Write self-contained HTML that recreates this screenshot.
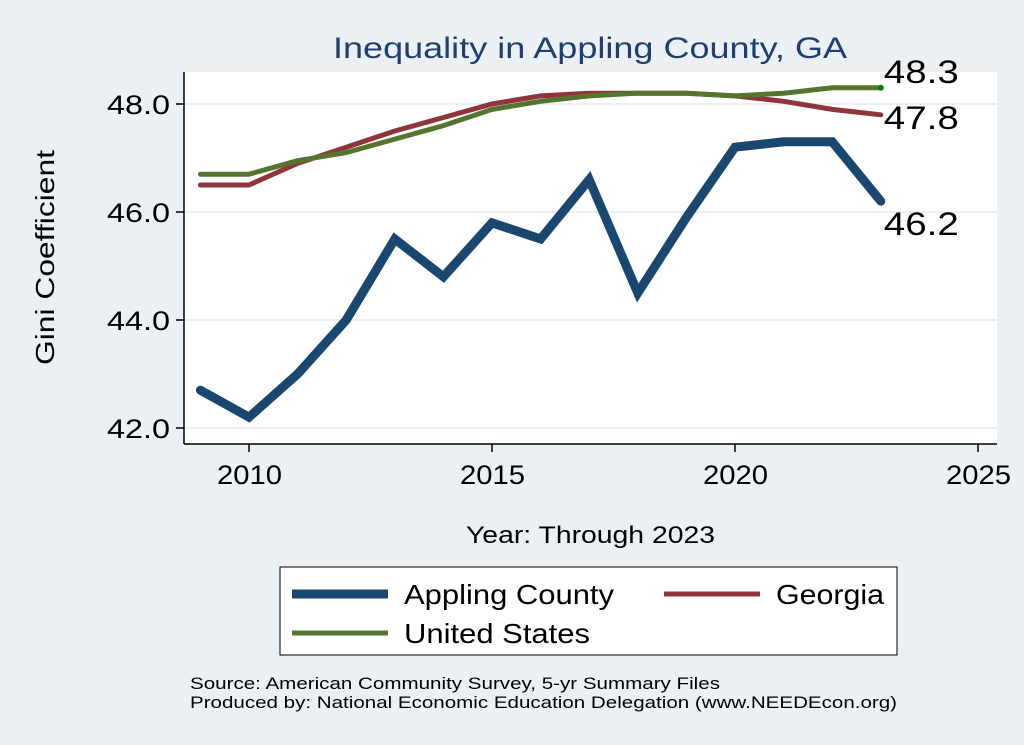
<!DOCTYPE html>
<html><head><meta charset="utf-8"><style>
body{margin:0;background:#eaf0f3;}
svg{display:block;font-family:"Liberation Sans",Arial,sans-serif;}
</style></head><body>
<svg id="c" width="1024" height="745" viewBox="0 0 1024 745" xmlns="http://www.w3.org/2000/svg">
<rect width="1024" height="745" fill="#eaf0f3"/>
<rect x="184" y="72" width="813" height="372" fill="#ffffff"/>
<text x="333" y="58" textLength="514" lengthAdjust="spacingAndGlyphs" font-size="30" fill="#1f3f70">Inequality in Appling County, GA</text>
<g id="grid"></g>
<g id="axes"></g>
<g id="series"></g>
<text transform="translate(54,365) rotate(-90)" textLength="215" lengthAdjust="spacingAndGlyphs" font-size="26" fill="#000">Gini Coefficient</text>
<text x="466" y="543" textLength="249" lengthAdjust="spacingAndGlyphs" font-size="24" fill="#000">Year: Through 2023</text>
<g>
<rect x="280" y="567" width="617" height="88" fill="#fff" stroke="#000" stroke-width="1"/>
<g><line x1="292" y1="594" x2="388" y2="594" stroke="#1a476f" stroke-width="9"/><text x="404" y="604" textLength="210" lengthAdjust="spacingAndGlyphs" font-size="28">Appling County</text></g>
<g><line x1="664" y1="594" x2="760" y2="594" stroke="#90353b" stroke-width="5"/><text x="776" y="604" textLength="108" lengthAdjust="spacingAndGlyphs" font-size="28">Georgia</text></g>
<g><line x1="292" y1="633" x2="388" y2="633" stroke="#55752f" stroke-width="5"/><text x="404" y="643" textLength="186" lengthAdjust="spacingAndGlyphs" font-size="28">United States</text></g>
</g>
<text x="190" y="689" textLength="530" lengthAdjust="spacingAndGlyphs" font-size="16.5">Source: American Community Survey, 5-yr Summary Files</text>
<text x="190" y="708" textLength="707" lengthAdjust="spacingAndGlyphs" font-size="16.5">Produced by: National Economic Education Delegation (www.NEEDEcon.org)</text>
</svg>
<script>
const years=[2009,2010,2011,2012,2013,2014,2015,2016,2017,2018,2019,2020,2021,2022,2023];
const appling=[42.7,42.2,43.0,44.0,45.5,44.8,45.8,45.5,46.6,44.5,45.9,47.2,47.3,47.3,46.2];
const georgia=[46.5,46.5,46.9,47.2,47.5,47.75,48.0,48.15,48.2,48.2,48.2,48.15,48.05,47.9,47.8];
const us=[46.7,46.7,46.95,47.1,47.35,47.6,47.9,48.05,48.15,48.2,48.2,48.15,48.2,48.3,48.3];
const yTicks=[42,44,46,48];
const xTicks=[2010,2015,2020,2025];
const NS="http://www.w3.org/2000/svg";
const X=v=>249+(v-2010)*48.6;
const Y=v=>428-(v-42)*54;
function mk(tag,attrs,parent,txt){const e=document.createElementNS(NS,tag);for(const k in attrs)e.setAttribute(k,attrs[k]);if(txt!==undefined)e.textContent=txt;document.getElementById(parent).appendChild(e);return e;}
for(const t of yTicks){
 const g=mk('line',{x1:184,x2:997,y1:Y(t),y2:Y(t),stroke:'#eaf0f3','stroke-width':2},'grid');
 
 
 mk('line',{x1:176,x2:184,y1:Y(t),y2:Y(t),stroke:'#000','stroke-width':1.5},'axes');
 const l=mk('text',{x:170,y:Y(t)+10,'text-anchor':'end','font-size':27,textLength:63,lengthAdjust:'spacingAndGlyphs'},'axes',t.toFixed(1));
 
 
}
for(const t of xTicks){
 mk('line',{x1:X(t),x2:X(t),y1:444,y2:452,stroke:'#000','stroke-width':1.5},'axes');
 const l=mk('text',{x:X(t)-32,y:484,'font-size':27,textLength:65,lengthAdjust:'spacingAndGlyphs'},'axes',t);
 
 
}
mk('line',{x1:184,x2:184,y1:72,y2:444,stroke:'#000','stroke-width':1.5},'axes');
mk('line',{x1:184,x2:997,y1:444,y2:444,stroke:'#000','stroke-width':1.5},'axes');
function line(vals,color,w,name){
 const p=mk('polyline',{points:vals.map((v,i)=>X(years[i])+','+Y(v)).join(' '),fill:'none',stroke:color,'stroke-width':w,'stroke-linejoin':'miter','stroke-linecap':'round'},'series');
 
 
}
line(georgia,'#90353b',5,'georgia-line');
line(us,'#55752f',5,'us-line');
line(appling,'#1a476f',9,'appling-line');
const n=years.length-1;
mk('circle',{cx:X(years[n]),cy:Y(us[n]),r:3,fill:'#008000'},'series');
const lab=[[us[n],-5,'us-end-label'],[georgia[n],14,'georgia-end-label'],[appling[n],34,'appling-end-label']];
for(const [v,dy,nm] of lab){
 const t=mk('text',{x:X(years[n])+3,y:Y(v)+dy,'font-size':32,textLength:75,lengthAdjust:'spacingAndGlyphs'},'series',v.toFixed(1));
 
 
}
</script>
</body></html>
